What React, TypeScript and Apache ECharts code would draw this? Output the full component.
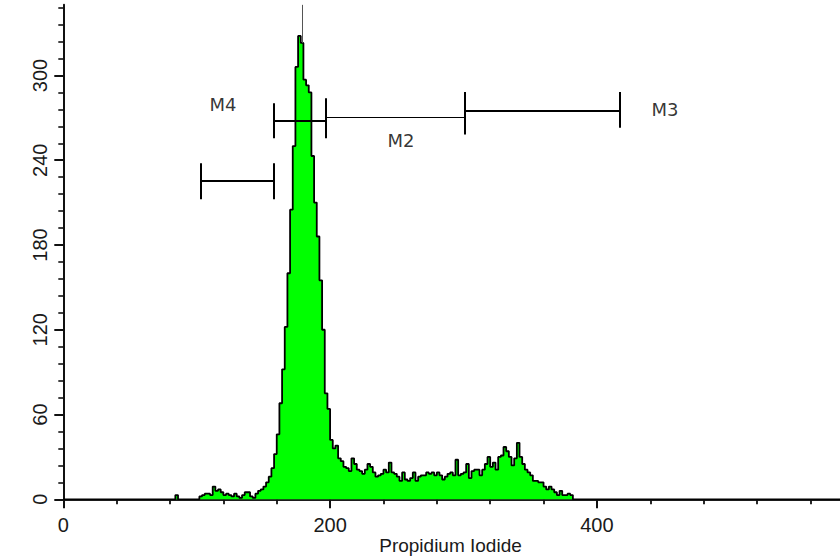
import React, { useEffect, useRef } from "react";
import * as echarts from "echarts";

// Histogram: channel bins of width 2, starting at channel 80
const BIN_START = 80;
const BIN_WIDTH = 2;
const counts = [
  0, 0, 3, 0, 0, 0, 0, 0, 0, 0, // 80-98
  0, 2, 3, 4, 4, 3, 9, 6, 7, 5, // 100-118
  3, 4, 3, 2, 4, 2, 1, 3, 5, 5, // 120-138
  2, 1, 4, 6, 7, 9, 12, 16, 22, 32, // 140-158
  46, 68, 92, 122, 160, 205, 250, 306, 328, 323, // 160-178
  297, 293, 288, 243, 210, 186, 155, 120, 75, 64, // 180-198
  42, 36, 38, 29, 27, 23, 22, 20, 29, 25, // 200-218
  21, 20, 18, 21, 25, 23, 19, 16, 17, 18, // 220-238
  21, 19, 26, 19, 18, 16, 13, 19, 14, 13, // 240-258
  15, 19, 13, 16, 17, 17, 19, 18, 19, 17, // 260-278
  19, 17, 14, 16, 18, 19, 17, 28, 17, 18, // 280-298
  19, 25, 15, 20, 21, 21, 17, 21, 25, 30, // 300-318
  23, 26, 21, 30, 31, 37, 34, 30, 24, 29, // 320-338
  40, 30, 25, 21, 19, 17, 13, 13, 12, 12, // 340-358
  9, 7, 9, 7, 5, 3, 6, 3, 3, 4, // 360-378
  3, // 380
];

const X_MIN = 0;
const X_MAX = 600;
const Y_MIN = 0;
const Y_MAX = 350;
const yMajorTicks = [0, 60, 120, 180, 240, 300];
const yMinorTicks = [
  12, 24, 36, 48, 72, 84, 96, 108, 132, 144, 156, 168, 192, 204, 216, 228,
  252, 264, 276, 288, 312, 324, 336, 348,
];

// Cursor line at peak channel
const cursorX = 178.8;
const cursorTop = 350;
const cursorBottom = 323;

// Marker gates (horizontal bars)
const gateFrom = [103.4, 157.6, 196.7, 301.1];
const gateTo = [157.6, 196.7, 301.1, 417.2];
const gateLevel = [225.3, 268.2, 270.6, 275.3];
// gate end ticks: channel, low, high
const gateTickX = [103.4, 157.6, 157.6, 196.7, 301.1, 417.2];
const gateTickLow = [212.4, 212.4, 255.5, 255.5, 258.2, 263.0];
const gateTickHigh = [237.8, 237.8, 280.3, 283.8, 288.3, 288.3];

// Marker labels
const labelNames = ["M4", "M2", "M3"];
const labelX = [119.7, 253.1, 451.1];
const labelY = [279.6, 253.9, 275.9];

const xTitle = "Propidium Iodide";

export default function App() {
  const ref = useRef<HTMLDivElement>(null);

  useEffect(() => {
    if (!ref.current) return;
    const chart = echarts.init(ref.current, undefined, { renderer: "svg" });

    const histData: number[][] = [[X_MIN, 0]];
    counts.forEach((c, i) => histData.push([BIN_START + i * BIN_WIDTH, c]));
    histData.push([BIN_START + counts.length * BIN_WIDTH, 0]);
    histData.push([X_MAX, 0]);

    const thinGate = 2;
    const thickGateLines: any[] = [];
    const thinGateLines: any[] = [];
    gateFrom.forEach((x1, i) => {
      const item = { coords: [[x1, gateLevel[i]], [gateTo[i], gateLevel[i]]] };
      if (i === thinGate) thinGateLines.push(item);
      else thickGateLines.push(item);
    });
    gateTickX.forEach((x, i) => {
      thickGateLines.push({ coords: [[x, gateTickLow[i]], [x, gateTickHigh[i]]] });
    });

    const font = "'Liberation Sans', Arial, Helvetica, sans-serif";
    const textColor = "#1a1a1a";

    chart.setOption({
      animation: false,
      backgroundColor: "#ffffff",
      grid: {
        left: 63.3,
        top: 4.8,
        width: 800.4,
        height: 494.5,
        containLabel: false,
        outerBoundsMode: "none",
      },
      xAxis: [
        {
          type: "value",
          position: "bottom",
          offset: 2,
          min: X_MIN,
          max: X_MAX,
          interval: 200,
          axisLine: { show: true, lineStyle: { color: "#111", width: 2.2 } },
          axisTick: { show: true, length: 9, lineStyle: { color: "#111", width: 2 } },
          minorTick: { show: true, splitNumber: 5, length: 5, lineStyle: { color: "#111", width: 1.8 } },
          axisLabel: {
            show: true,
            margin: 14,
            fontSize: 20,
            fontFamily: font,
            color: textColor,
            showMaxLabel: false,
          },
          splitLine: { show: false },
          minorSplitLine: { show: false },
        },
        {
          type: "value",
          position: "top",
          min: X_MIN,
          max: X_MAX,
          axisLine: { show: true, lineStyle: { color: "#222", width: 1.7 } },
          axisTick: { show: false },
          axisLabel: { show: false },
          splitLine: { show: false },
        },
      ],
      yAxis: [
        {
          type: "value",
          position: "left",
          offset: 2.3,
          min: Y_MIN,
          max: Y_MAX,
          axisLine: { show: true, lineStyle: { color: "#111", width: 2 } },
          axisTick: {
            show: true,
            customValues: yMajorTicks,
            length: 9,
            lineStyle: { color: "#111", width: 2 },
          },
          axisLabel: {
            show: true,
            customValues: yMajorTicks,
            rotate: 90,
            margin: 11,
            fontSize: 20,
            fontFamily: font,
            color: textColor,
          },
          splitLine: { show: false },
        },
        {
          type: "value",
          position: "left",
          offset: 2.3,
          min: Y_MIN,
          max: Y_MAX,
          axisLine: { show: false },
          axisTick: {
            show: true,
            customValues: yMinorTicks,
            length: 5,
            lineStyle: { color: "#111", width: 1.6 },
          },
          axisLabel: { show: false },
          splitLine: { show: false },
        },
      ],
      series: [
        {
          type: "line",
          xAxisIndex: 0,
          yAxisIndex: 0,
          data: histData,
          step: "end",
          symbol: "none",
          lineStyle: { color: "#000", width: 1.8 },
          areaStyle: { color: "#00ff00", opacity: 1 },
          z: 2,
          silent: true,
        },
        {
          type: "lines",
          coordinateSystem: "cartesian2d",
          xAxisIndex: 0,
          yAxisIndex: 0,
          data: [{ coords: [[cursorX, cursorTop], [cursorX, cursorBottom]] }],
          lineStyle: { color: "#555", width: 1, opacity: 1 },
          z: 3,
          silent: true,
        },
        {
          type: "lines",
          coordinateSystem: "cartesian2d",
          xAxisIndex: 0,
          yAxisIndex: 0,
          data: thickGateLines,
          lineStyle: { color: "#000", width: 2, opacity: 1 },
          z: 4,
          silent: true,
        },
        {
          type: "lines",
          coordinateSystem: "cartesian2d",
          xAxisIndex: 0,
          yAxisIndex: 0,
          data: thinGateLines,
          lineStyle: { color: "#000", width: 1.1, opacity: 1 },
          z: 4,
          silent: true,
        },
        {
          type: "scatter",
          xAxisIndex: 0,
          yAxisIndex: 0,
          symbolSize: 1,
          itemStyle: { color: "rgba(0,0,0,0)" },
          data: labelNames.map((n, i) => ({ name: n, value: [labelX[i], labelY[i]] })),
          label: {
            show: true,
            position: "inside",
            formatter: "{b}",
            fontSize: 18,
            fontFamily: "'DejaVu Sans', Verdana, sans-serif",
            color: "#000",
          },
          z: 5,
          silent: true,
        },
      ],
      graphic: [
        {
          type: "text",
          x: 450.5,
          y: 545,
          style: {
            text: xTitle,
            fontSize: 19,
            fontFamily: font,
            fill: textColor,
            align: "center",
            verticalAlign: "middle",
          },
        },
      ],
    });

    return () => chart.dispose();
  }, []);

  return (
    <div
      ref={ref}
      style={{ position: "fixed", left: 0, top: 0, width: 840, height: 557, background: "#fff" }}
    />
  );
}
